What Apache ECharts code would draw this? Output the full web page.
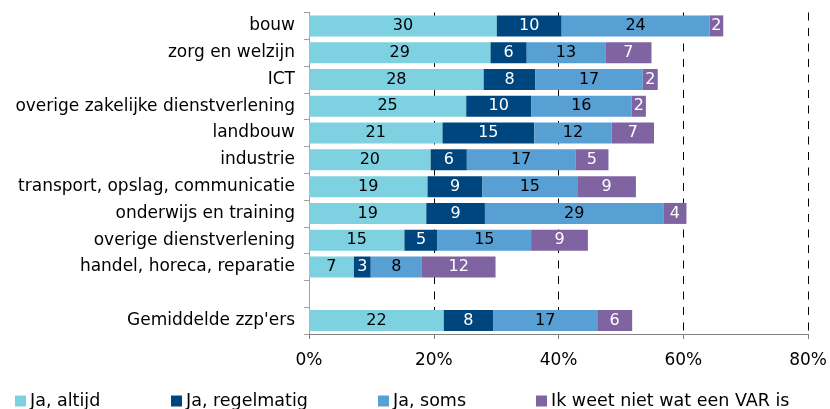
<!DOCTYPE html>
<html>
<head>
<meta charset="utf-8">
<script src="https://cdn.jsdelivr.net/npm/echarts@6/dist/echarts.min.js"></script>
<style>
html,body{margin:0;padding:0;background:#fff;}
#chart{width:830px;height:409px;}
</style>
</head>
<body>
<div id="chart"></div>
<script>
const categories = ['bouw','zorg en welzijn','ICT','overige zakelijke dienstverlening','landbouw','industrie','transport, opslag, communicatie','onderwijs en training','overige dienstverlening','handel, horeca, reparatie','',"Gemiddelde zzp'ers"];
const seriesNames = ['Ja, altijd','Ja, regelmatig','Ja, soms','Ik weet niet wat een VAR is'];
const jaAltijd     = [30.1, 29.1, 28.0, 25.2, 21.4, 19.5, 19.0, 18.8, 15.3, 7.2, null, 21.6];
const jaRegelmatig = [10.4,  5.8,  8.3, 10.4, 14.7,  5.8,  8.8,  9.4,  5.3, 2.7, null,  7.9];
const jaSoms       = [23.7, 12.6, 17.2, 16.1, 12.4, 17.4, 15.2, 28.6, 15.0, 8.2, null, 16.7];
const weetNiet     = [ 2.2,  7.4,  2.4,  2.3,  6.8,  5.3,  9.4,  3.7,  9.1, 11.8, null,  5.6];
const xTicks = [0, 20, 40, 60, 80];

const colors = ['#7ed1e1', '#00467e', '#58a0d4', '#8064a2'];
const labelColors = ['#000', '#fff', '#000', '#fff'];
const values = [jaAltijd, jaRegelmatig, jaSoms, weetNiet];
const FONT = 'DejaVu Sans';

const chart = echarts.init(document.getElementById('chart'), null, {renderer: 'canvas'});
const legendLefts = [15, 171, 378, 536];

const option = {
  animation: false,
  backgroundColor: '#fff',
  textStyle: {fontFamily: FONT},
  grid: {left: 309, right: 20.7, top: 12.5, bottom: 75, containLabel: false},
  legend: seriesNames.map((n, i) => ({
    data: [n],
    left: legendLefts[i],
    top: 392,
    padding: 0,
    itemWidth: 11,
    itemHeight: 11,
    itemGap: 4,
    icon: 'rect',
    textStyle: {fontFamily: FONT, fontSize: 17.5, color: '#000', padding: [0,0,0,-1]},
    selectedMode: false
  })),
  xAxis: {
    type: 'value',
    min: xTicks[0],
    max: xTicks[xTicks.length - 1],
    interval: 20,
    axisLine: {show: true, lineStyle: {color: '#808080', width: 1}},
    axisTick: {show: true, length: 5, lineStyle: {color: '#808080'}},
    axisLabel: {formatter: '{value}%', fontFamily: FONT, fontSize: 17, color: '#000', margin: 18},
    splitLine: {show: true, lineStyle: {color: '#000', width: 1, type: [8, 7.5]}}
  },
  yAxis: {
    type: 'category',
    inverse: true,
    data: categories,
    axisLine: {show: true, lineStyle: {color: '#a0a0a0', width: 1}},
    axisTick: {show: true, length: 5, lineStyle: {color: '#a0a0a0'}},
    axisLabel: {fontFamily: FONT, fontSize: 17, color: '#000', margin: 14}
  },
  series: seriesNames.map((n, i) => ({
    name: n,
    type: 'bar',
    stack: 'total',
    barWidth: 21,
    data: values[i],
    itemStyle: {color: colors[i]},
    label: {
      show: true,
      position: 'inside',
      fontFamily: FONT,
      fontSize: 16,
      color: labelColors[i],
      formatter: p => (p.value == null ? '' : Math.round(p.value))
    }
  }))
};
chart.setOption(option);
</script>
</body>
</html>
